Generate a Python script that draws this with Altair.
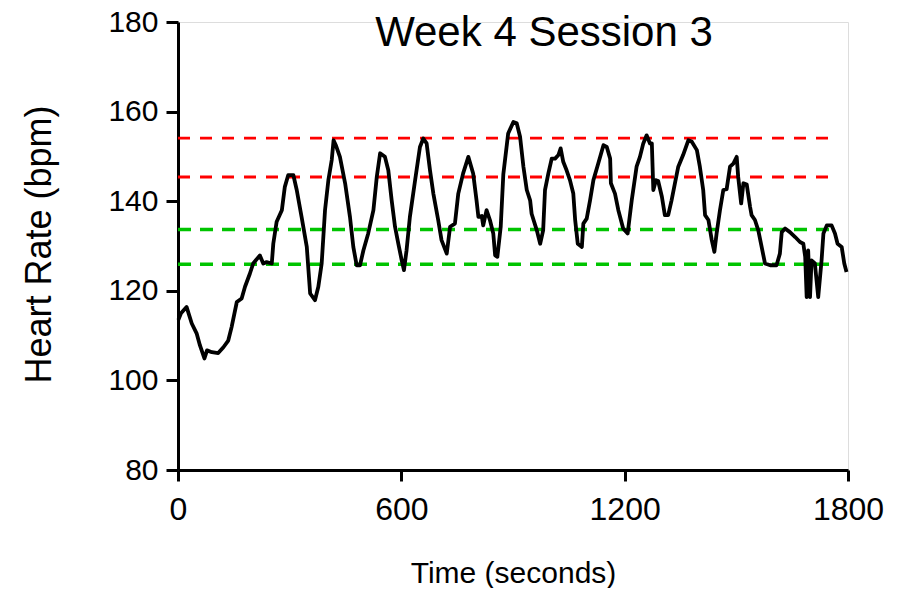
import altair as alt
import pandas as pd

# ---- data ----
time_s = [1, 8, 23, 37, 50, 59, 71, 78, 91, 108, 122, 135, 144, 158, 171, 180, 193, 202, 220, 229,
          238, 252, 256, 265, 279, 287, 296, 310, 319, 332, 346, 355, 368, 377, 386, 395, 404, 413, 418, 424,
          435, 449, 462, 471, 480, 489, 498, 511, 525, 534, 543, 556, 565, 574, 583, 592, 601, 607, 614, 623,
          637, 650, 659, 668, 677, 686, 699, 708, 722, 731, 744, 753, 766, 780, 793, 802, 807, 816, 820, 829,
          838, 847, 852, 858, 867, 874, 887, 901, 910, 919, 928, 937, 946, 950, 964, 973, 981, 986, 995, 1004,
          1013, 1022, 1028, 1035, 1044, 1053, 1062, 1067, 1074, 1085, 1089, 1098, 1107, 1116, 1129, 1143, 1152, 1161, 1163, 1174,
          1183, 1196, 1208, 1219, 1232, 1241, 1250, 1259, 1268, 1273, 1277, 1284, 1290, 1300, 1308, 1317, 1326, 1335, 1344, 1357,
          1371, 1380, 1394, 1402, 1411, 1416, 1425, 1434, 1441, 1447, 1456, 1465, 1474, 1483, 1492, 1501, 1505, 1513, 1519, 1528,
          1537, 1541, 1550, 1559, 1568, 1577, 1591, 1608, 1617, 1622, 1631, 1644, 1658, 1671, 1680, 1685, 1689, 1693, 1698, 1702,
          1711, 1720, 1729, 1734, 1743, 1756, 1765, 1772, 1783, 1790, 1796]
heart_rate = [113.5, 115.0, 116.4, 112.7, 110.5, 107.8, 104.9, 106.7, 106.3, 106.1, 107.4, 108.9, 111.9, 117.5, 118.3, 120.9, 123.8, 126.1, 127.9, 126.1,
              126.4, 126.1, 130.5, 135.4, 138.0, 143.2, 145.8, 145.8, 142.5, 136.5, 129.8, 119.4, 117.9, 120.9, 126.1, 138.0, 144.7, 149.2, 153.6, 152.5,
              149.9, 144.0, 136.5, 129.8, 125.7, 125.7, 129.0, 132.8, 138.0, 145.4, 150.7, 149.9, 146.9, 140.2, 134.3, 130.5, 126.8, 124.6, 129.0, 136.5,
              144.7, 152.1, 154.0, 152.9, 146.9, 141.7, 135.8, 131.3, 128.3, 134.3, 135.0, 141.7, 146.2, 149.9, 146.2, 140.2, 136.5, 136.7, 134.6, 138.0,
              135.8, 132.8, 127.9, 127.6, 134.3, 146.0, 155.1, 157.7, 157.4, 154.4, 147.7, 142.5, 140.2, 137.2, 133.5, 130.5, 133.5, 142.5, 146.2, 149.5,
              149.5, 150.3, 151.8, 148.8, 146.9, 144.7, 141.7, 135.8, 130.5, 129.8, 135.0, 136.1, 140.2, 144.7, 148.4, 152.5, 152.1, 149.5, 144.0, 141.7,
              138.0, 133.9, 132.8, 140.2, 147.7, 149.9, 152.9, 154.7, 152.9, 152.9, 142.5, 144.7, 144.5, 141.0, 136.9, 136.9, 140.2, 144.0, 147.7, 150.3,
              153.6, 153.3, 151.4, 147.7, 142.5, 136.9, 135.8, 131.3, 128.7, 132.8, 138.0, 142.5, 142.7, 147.7, 148.4, 149.9, 145.4, 139.5, 144.0, 143.7,
              138.7, 136.9, 135.8, 133.5, 129.8, 126.1, 125.7, 125.7, 128.3, 133.1, 133.9, 133.1, 132.0, 130.9, 130.5, 127.6, 118.6, 129.0, 118.6, 126.8,
              126.1, 118.6, 126.8, 132.8, 134.6, 134.6, 132.8, 130.5, 129.8, 126.1, 124.2]

red_levels = [154.1, 145.4]
green_levels = [133.7, 125.9]
zone_start = 0
zone_end = 1765

x_ticks = [0, 600, 1200, 1800]
y_ticks = [80, 100, 120, 140, 160, 180]
chart_title = "Week 4 Session 3"
x_title = "Time (seconds)"
y_title = "Heart Rate (bpm)"

# ---- tables ----
hr_df = pd.DataFrame({"t": time_s, "hr": heart_rate})
red_df = pd.DataFrame({"hr": red_levels, "t": [zone_start] * len(red_levels), "t2": [zone_end] * len(red_levels)})
green_df = pd.DataFrame({"hr": green_levels, "t": [zone_start] * len(green_levels), "t2": [zone_end] * len(green_levels)})
title_df = pd.DataFrame({"label": [chart_title]})

FONT = "Liberation Sans"

x_scale = alt.Scale(domain=[0, 1800], nice=False, zero=False)
y_scale = alt.Scale(domain=[80, 180], nice=False, zero=False)

x_axis = alt.Axis(values=x_ticks, title=x_title, grid=False, format="d", labelFlush=False,
                  domainColor="black", domainWidth=3, tickColor="black", tickWidth=3, tickSize=11,
                  labelFont=FONT, labelFontSize=32, labelColor="black", labelPadding=13,
                  titleFont=FONT, titleFontSize=30, titleFontWeight="normal", titleColor="black",
                  titleBaseline="alphabetic", titleY=112)
y_axis = alt.Axis(values=y_ticks, title=y_title, grid=False, format="d", labelFlush=False,
                  domainColor="black", domainWidth=3, tickColor="black", tickWidth=3, tickSize=12,
                  labelFont=FONT, labelFontSize=30, labelColor="black", labelPadding=8,
                  titleFont=FONT, titleFontSize=36, titleFontWeight="normal", titleColor="black",
                  titleBaseline="alphabetic", titleX=-128, titleY=222, titleAngle=-90)

X = alt.X("t:Q", scale=x_scale, axis=x_axis)
Y = alt.Y("hr:Q", scale=y_scale, axis=y_axis)

red_rules = alt.Chart(red_df).mark_rule(color="#ff0000", strokeWidth=2.8, strokeDash=[12, 10]).encode(
    x=X, x2="t2:Q", y=Y)
green_rules = alt.Chart(green_df).mark_rule(color="#00c400", strokeWidth=3.5, strokeDash=[13, 9]).encode(
    x=X, x2="t2:Q", y=Y)
trace = alt.Chart(hr_df).mark_line(color="black", strokeWidth=3.8, strokeJoin="round").encode(
    x=X, y=Y)
title = alt.Chart(title_df).mark_text(font=FONT, fontSize=42, align="center", baseline="alphabetic",
                                      color="black").encode(
    x=alt.value(366), y=alt.value(24), text="label:N")

chart = alt.layer(red_rules, green_rules, trace, title).properties(
    width=670, height=448,
    autosize=alt.AutoSizeParams(type="none"),
    padding={"left": 170, "top": 14, "right": 40, "bottom": 118},
).configure_view(stroke=None).configure(background="white")

chart.save("out.html", embed_options={"renderer": "svg", "actions": False})
